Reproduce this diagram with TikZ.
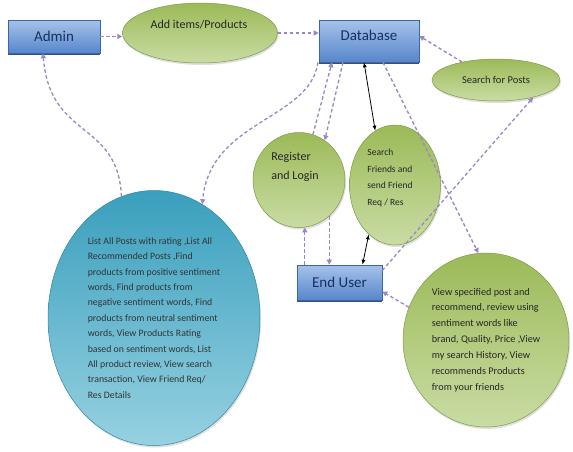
\documentclass[tikz,border=0pt]{standalone}
\usepackage{fontspec}
\setmainfont{Carlito}
\usetikzlibrary{positioning, calc, arrows.meta, shapes.geometric, shadows}

\definecolor{boxtop}{HTML}{A6C2EA}
\definecolor{boxbot}{HTML}{5786CC}
\definecolor{boxline}{HTML}{3A66A8}
\definecolor{boxtext}{HTML}{17305E}
\definecolor{leaftop}{HTML}{9CBA58}
\definecolor{leafbot}{HTML}{C9DCA4}
\definecolor{leafline}{HTML}{7E9A45}
\definecolor{seatop}{HTML}{3A9FBD}
\definecolor{seabot}{HTML}{96D1E1}
\definecolor{sealine}{HTML}{2F85A0}
\definecolor{flowcol}{HTML}{9A86C2}

\tikzset{
  unitbox/.style={rectangle, draw=boxline, line width=0.6pt, top color=boxtop, bottom color=boxbot,
    text=boxtext, font=\fontsize{15}{18}\selectfont, inner sep=0pt,
    drop shadow={shadow xshift=0pt, shadow yshift=-2pt, fill=boxtext, opacity=0.85}},
  leaf/.style={ellipse, draw=leafline, line width=0.5pt, top color=leaftop, bottom color=leafbot,
    inner sep=0pt, text=black!85, drop shadow={shadow xshift=1pt, shadow yshift=-2pt, opacity=0.25}},
  sea/.style={ellipse, draw=sealine, line width=0.5pt, top color=seatop, bottom color=seabot,
    inner sep=0pt, text=black!80, drop shadow={shadow xshift=1pt, shadow yshift=-2pt, opacity=0.25}},
  flow/.style={draw=flowcol, line width=1.3pt, dash pattern=on 3.5pt off 2.5pt,
    -{Triangle[length=5pt,width=5pt]}},
  link/.style={draw=black, line width=0.8pt, {Latex[length=5pt,width=4pt]}-{Latex[length=5pt,width=4pt]}},
}

\begin{document}
\begin{tikzpicture}[x=1pt, y=-1pt]
  \useasboundingbox (0,0) rectangle (573,451);

  % boxes
  \node[unitbox, minimum width=92pt, minimum height=33pt] (admin) at (54,36.5) {Admin};
  \node[unitbox, minimum width=100pt, minimum height=42pt] (db) at (369,41) {};
  \node[text=boxtext, font=\fontsize{15}{18}\selectfont] (dbtext) at (369,35) {Database};
  \node[unitbox, minimum width=85pt, minimum height=35pt] (eu) at (339.5,282.5) {End User};

  % ellipses
  \node[leaf, minimum width=155pt, minimum height=60pt] (add) at (200,33) {};
  \node[font=\fontsize{12}{14}\selectfont, text=black!85] (addtext) at (199,25) {Add items/Products};
  \node[leaf, minimum width=128pt, minimum height=42pt, font=\fontsize{10.5}{12}\selectfont] (sp) at (496,80) {Search for Posts};
  \node[leaf, minimum width=92pt, minimum height=95pt] (reg) at (299,180) {};
  \node[align=left, font=\fontsize{12}{19}\selectfont, text=black!85] (regtext) at (295,167) {Register\\and Login};
  \node[leaf, minimum width=91pt, minimum height=120pt] (fr) at (395,185) {};
  \node[align=left, font=\fontsize{9.5}{16.7}\selectfont, text=black!85] (frtext) at (390,178)
    {Search\\Friends and\\send Friend\\Req / Res};
  \node[sea, minimum width=212pt, minimum height=255pt, align=left,
    font=\fontsize{9.8}{15.4}\selectfont] (list) at (154,318)
    {List All Posts with rating ,List All\\Recommended Posts ,Find\\products from positive sentiment\\
     words, Find products from\\negative sentiment words, Find\\products from neutral sentiment\\
     words, View Products Rating\\based on sentiment words, List\\All product review, View search\\
     transaction, View Friend Req/\\Res Details};
  \node[leaf, minimum width=166pt, minimum height=174pt, align=left,
    font=\fontsize{10.2}{15.9}\selectfont] (vr) at (486,340)
    {View specified post and\\recommend, review using\\sentiment words like\\brand, Quality, Price ,View\\
     my search History, View\\recommends Products\\from your friends};

  % dashed flows
  \draw[flow] (admin.east) -- (admin.east -| add.west);
  \draw[flow] (add.east) -- (add.east -| db.west);
  \draw[flow] ([xshift=-51pt]db.south) .. controls (310,120) and (210,120) .. (list.67);
  \draw[flow] (list.105) .. controls (118,120) and (50,140) .. ([xshift=-11pt]admin.south);
  \draw[flow] (reg.73) -- ([xshift=-37pt]db.south);
  \draw[flow] ([xshift=-26pt]db.south) -- (reg.57);
  \draw[flow] (reg.-83 |- eu.north) -- (reg.-83);
  \draw[flow] (reg.-50) -- (reg.-50 |- eu.north);
  \draw[flow] ([xshift=14pt]db.south) -- (vr.95);
  \draw[flow] (sp.152) -- ([yshift=5pt]db.east);
  \draw[flow] ([yshift=12pt]eu.east) -- (sp.-25);
  \draw[flow] (vr.157) -- ([yshift=-9pt]eu.east);

  % two-way links
  \draw[link] ([xshift=-5pt]db.south) -- (fr.110);
  \draw[link] (fr.242) -- ([xshift=23pt]eu.north);
\end{tikzpicture}
\end{document}
